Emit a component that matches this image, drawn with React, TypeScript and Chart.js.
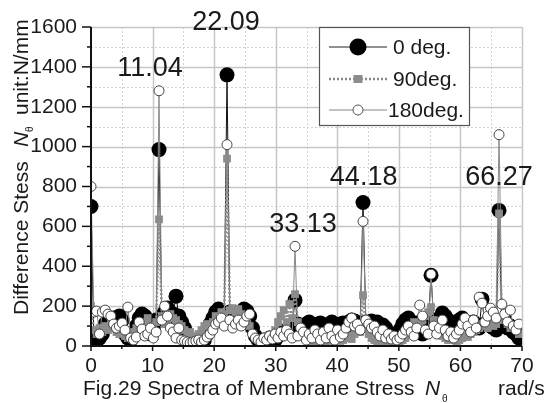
import { useEffect, useRef } from "react";
import { Chart, registerables } from "chart.js";

Chart.register(...registerables);

// Spectral resolution of the FFT (rad/s per bin)
const DF = 0.4602;

// Amplitude spectra of the membrane stress difference, one value per bin (N/mm)
const deg0 = [
  700, 45, 25, 40, 60, 110, 130, 120, 140, 100,
  150, 130, 60, 40, 30, 50, 100, 140, 160, 150,
  120, 60, 90, 130, 985, 150, 170, 190, 140, 160,
  250, 150, 120, 90, 50, 30, 20, 25, 30, 20,
  30, 60, 110, 140, 170, 185, 160, 150, 1360, 170,
  140, 130, 160, 170, 185, 175, 150, 90, 50, 30,
  25, 20, 30, 40, 20, 30, 50, 60, 70, 80,
  90, 100, 230, 110, 100, 95, 110, 120, 105, 100,
  110, 115, 100, 95, 110, 120, 105, 100, 110, 115,
  100, 120, 130, 125, 110, 115, 720, 120, 110, 125,
  110, 120, 100, 105, 90, 60, 40, 30, 50, 80,
  110, 130, 140, 120, 100, 115, 90, 60, 80, 110,
  355, 120, 90, 140, 165, 150, 130, 110, 90, 120,
  130, 140, 125, 110, 100, 120, 105, 90, 235, 110,
  120, 100, 90, 80, 680, 110, 130, 90, 100, 70,
  60, 40,
];

const deg90 = [
  200, 80, 60, 90, 70, 100, 80, 110, 90, 70,
  60, 80, 50, 40, 70, 60, 90, 80, 100, 120,
  140, 100, 80, 120, 635, 150, 110, 130, 160, 140,
  130, 110, 100, 80, 60, 70, 50, 40, 60, 80,
  100, 110, 90, 120, 150, 140, 170, 160, 940, 180,
  190, 170, 185, 160, 140, 120, 100, 60, 40, 30,
  30, 40, 50, 35, 45, 80, 120, 150, 180, 120,
  210, 140, 260, 120, 90, 60, 40, 30, 25, 20,
  20, 25, 30, 20, 25, 30, 40, 30, 25, 30,
  40, 50, 35, 60, 80, 70, 255, 90, 60, 40,
  30, 20, 25, 30, 20, 15, 20, 30, 25, 20,
  30, 40, 60, 90, 120, 110, 100, 130, 150, 170,
  195, 130, 100, 70, 50, 40, 30, 40, 30, 25,
  30, 40, 50, 45, 60, 70, 80, 90, 110, 100,
  90, 120, 100, 110, 665, 130, 140, 110, 90, 100,
  80, 60,
];

const deg180 = [
  800, 170, 175, 60, 170, 180, 160, 150, 110, 90,
  100, 115, 80, 195, 40, 30, 45, 120, 85, 50,
  60, 90, 40, 70, 1280, 130, 200, 150, 90, 70,
  40, 90, 30, 25, 20, 15, 20, 25, 30, 20,
  30, 45, 60, 80, 110, 120, 140, 100, 1010, 130,
  90, 110, 130, 100, 120, 150, 160, 60, 40, 30,
  20, 40, 30, 50, 35, 60, 40, 70, 50, 80,
  60, 40, 500, 50, 90, 70, 30, 60, 40, 80,
  60, 30, 70, 40, 90, 50, 30, 80, 45, 60,
  90, 120, 140, 100, 110, 80, 625, 130, 110, 90,
  100, 70, 50, 80, 40, 60, 35, 50, 30, 40,
  60, 80, 100, 70, 50, 90, 205, 150, 80, 60,
  360, 100, 60, 90, 130, 80, 50, 70, 40, 60,
  80, 110, 140, 100, 70, 130, 90, 245, 215, 120,
  150, 190, 170, 140, 1060, 210, 160, 120, 180, 100,
  80, 110,
];

const seriesNames = ["0 deg.", "90deg.", "180deg."];

// Harmonic peaks (rad/s) and where their labels sit
const peakFreqs = [11.04, 22.09, 33.13, 44.18, 66.27];
const peakLabelDx = [-1.45, -0.15, 1.3, 0.1, 0];
const peakLabelBase = [1354, 1585, 572, 807, 807];

const FONT = '"Liberation Sans", Arial, Helvetica, sans-serif';
const INK = "#1a1a1a";

const toPoints = (vals: number[]) => vals.map((v, i) => ({ x: i * DF, y: v }));

function drawMarker(ctx: CanvasRenderingContext2D, kind: number, cx: number, cy: number) {
  ctx.save();
  ctx.setLineDash([]);
  if (kind === 0) {
    ctx.fillStyle = "#000";
    ctx.beginPath();
    ctx.arc(cx, cy, 8.5, 0, Math.PI * 2);
    ctx.fill();
  } else if (kind === 1) {
    ctx.fillStyle = "#8c8c8c";
    ctx.fillRect(cx - 4.5, cy - 4, 9, 8);
  } else {
    ctx.fillStyle = "#fff";
    ctx.strokeStyle = "#555";
    ctx.lineWidth = 1;
    ctx.beginPath();
    ctx.arc(cx, cy, 5, 0, Math.PI * 2);
    ctx.fill();
    ctx.stroke();
  }
  ctx.restore();
}

const framePlugin = {
  id: "frame",
  beforeDatasetsDraw(chart: any) {
    const { ctx, chartArea: a, scales } = chart;
    const xs = scales.x;
    const ys = scales.y;
    ctx.save();
    const hLine = (v: number) => {
      const py = Math.round(ys.getPixelForValue(v)) + 0.5;
      ctx.beginPath();
      ctx.moveTo(a.left, py);
      ctx.lineTo(a.right, py);
      ctx.stroke();
    };
    const vLine = (v: number) => {
      const px = Math.round(xs.getPixelForValue(v)) + 0.5;
      ctx.beginPath();
      ctx.moveTo(px, a.top);
      ctx.lineTo(px, a.bottom);
      ctx.stroke();
    };
    // minor grid
    ctx.strokeStyle = "#d2d2d2";
    ctx.lineWidth = 1;
    ctx.setLineDash([2, 2]);
    for (let v = 100; v < 1600; v += 200) hLine(v);
    for (let v = 5; v < 70; v += 10) vLine(v);
    // major grid
    ctx.setLineDash([]);
    ctx.strokeStyle = "#c6c6c6";
    ctx.lineWidth = 1.5;
    ys.ticks.forEach((t: any) => t.value > 0 && hLine(t.value));
    xs.ticks.forEach((t: any) => t.value > 0 && vLine(t.value));
    ctx.restore();
  },
  afterDraw(chart: any) {
    const { ctx, chartArea: a, scales } = chart;
    const xs = scales.x;
    const ys = scales.y;
    ctx.save();

    // axes
    ctx.strokeStyle = "#111";
    ctx.lineWidth = 2;
    ctx.beginPath();
    ctx.moveTo(a.left, a.top);
    ctx.lineTo(a.left, a.bottom);
    ctx.lineTo(a.right, a.bottom);
    ctx.stroke();

    // tick marks
    ctx.lineWidth = 1.5;
    for (let v = 0; v <= 1600; v += 100) {
      const py = ys.getPixelForValue(v);
      const len = v % 200 === 0 ? 9 : 4;
      ctx.beginPath();
      ctx.moveTo(a.left - len, py);
      ctx.lineTo(a.left, py);
      ctx.stroke();
    }
    for (let v = 0; v <= 70; v += 5) {
      const px = xs.getPixelForValue(v);
      const len = v % 10 === 0 ? 5 : 3;
      ctx.beginPath();
      ctx.moveTo(px, a.bottom);
      ctx.lineTo(px, a.bottom + len);
      ctx.stroke();
    }

    ctx.fillStyle = INK;
    ctx.textAlign = "left";
    ctx.textBaseline = "alphabetic";

    // y title
    ctx.save();
    ctx.translate(28, 315);
    ctx.rotate(-Math.PI / 2);
    ctx.font = `21px ${FONT}`;
    ctx.fillText("Difference Stess", 0, 0);
    ctx.font = `italic 21px ${FONT}`;
    ctx.fillText("N", 168, 0);
    ctx.font = `10px ${FONT}`;
    ctx.fillText("θ", 183, 5);
    ctx.font = `21px ${FONT}`;
    ctx.fillText("unit:N/mm", 200, 0);
    ctx.restore();

    // x title
    ctx.font = `21px ${FONT}`;
    ctx.fillText("Fig.29 Spectra of Membrane Stress", 83, 395);
    ctx.font = `italic 21px ${FONT}`;
    ctx.fillText("N", 425, 395);
    ctx.font = `10px ${FONT}`;
    ctx.fillText("θ", 442, 402);
    ctx.font = `21px ${FONT}`;
    ctx.fillText("rad/s", 498, 395);

    // peak labels
    ctx.font = `27px ${FONT}`;
    ctx.textAlign = "center";
    peakFreqs.forEach((f, i) => {
      ctx.fillText(
        f.toFixed(2),
        xs.getPixelForValue(f + peakLabelDx[i]),
        ys.getPixelForValue(peakLabelBase[i])
      );
    });

    // legend
    const lx = a.right - 203;
    const ly = a.top;
    ctx.fillStyle = "#fff";
    ctx.fillRect(lx, ly, 150, 98);
    ctx.strokeStyle = "#555";
    ctx.lineWidth = 1.2;
    ctx.strokeRect(lx + 0.5, ly + 0.5, 150, 98);
    const rows = [20, 52, 83];
    const textX = [74, 74, 69];
    rows.forEach((ry, k) => {
      const cy = ly + ry;
      ctx.save();
      if (k === 0) {
        ctx.strokeStyle = "#222";
        ctx.lineWidth = 1;
        ctx.setLineDash([]);
      } else if (k === 1) {
        ctx.strokeStyle = "#888";
        ctx.lineWidth = 2.5;
        ctx.setLineDash([2, 2]);
      } else {
        ctx.strokeStyle = "#888";
        ctx.lineWidth = 1;
        ctx.setLineDash([]);
      }
      ctx.beginPath();
      ctx.moveTo(lx + 10, cy);
      ctx.lineTo(lx + 68, cy);
      ctx.stroke();
      ctx.restore();
      drawMarker(ctx, k, lx + 39, cy);
      ctx.fillStyle = INK;
      ctx.textAlign = "left";
      ctx.textBaseline = "middle";
      ctx.font = `21px ${FONT}`;
      ctx.fillText(seriesNames[k], lx + textX[k], cy + 1);
    });

    ctx.restore();
  },
};

export default function App() {
  const canvasRef = useRef<HTMLCanvasElement | null>(null);

  useEffect(() => {
    const canvas = canvasRef.current;
    if (!canvas) return;
    const chart = new Chart(canvas, {
      type: "line",
      data: {
        datasets: [
          {
            label: seriesNames[0],
            data: toPoints(deg0),
            borderColor: "#111",
            borderWidth: 1,
            pointRadius: 7.5,
            pointBackgroundColor: "#000",
            pointBorderColor: "#000",
            pointBorderWidth: 0,
            order: 3,
          },
          {
            label: seriesNames[1],
            data: toPoints(deg90),
            borderColor: "#8a8a8a",
            borderWidth: 2.5,
            borderDash: [2, 2],
            pointStyle: "rect",
            pointRadius: 5.5,
            pointBackgroundColor: "#8c8c8c",
            pointBorderColor: "#8c8c8c",
            pointBorderWidth: 0,
            order: 2,
          },
          {
            label: seriesNames[2],
            data: toPoints(deg180),
            borderColor: "#8a8a8a",
            borderWidth: 1,
            pointRadius: 5,
            pointBackgroundColor: "#fff",
            pointBorderColor: "#444",
            pointBorderWidth: 1,
            order: 1,
          },
        ],
      },
      options: {
        responsive: false,
        animation: false,
        devicePixelRatio: 1,
        layout: { padding: { top: 27, right: 22, left: 0, bottom: 0 } },
        plugins: { legend: { display: false }, tooltip: { enabled: false } },
        elements: { line: { tension: 0 } },
        scales: {
          x: {
            type: "linear",
            min: 0,
            max: 70,
            ticks: {
              stepSize: 10,
              font: { family: FONT, size: 21 },
              color: INK,
              padding: 4,
              maxRotation: 0,
              autoSkip: false,
              callback: (v: any) => String(v),
            },
            grid: { display: false, drawTicks: true, tickLength: 4 },
            border: { display: false },
            afterFit: (s: any) => {
              s.height = 57;
            },
          },
          y: {
            min: 0,
            max: 1600,
            ticks: {
              stepSize: 200,
              font: { family: FONT, size: 21 },
              color: INK,
              padding: 5,
              autoSkip: false,
              callback: (v: any) => String(v),
            },
            grid: { display: false, drawTicks: true, tickLength: 9 },
            border: { display: false },
            afterFit: (s: any) => {
              s.width = 91;
            },
          },
        },
      },
      plugins: [framePlugin],
    });
    return () => chart.destroy();
  }, []);

  return (
    <div
      style={{
        position: "fixed",
        left: 0,
        top: 0,
        width: 544,
        height: 403,
        background: "#fff",
      }}
    >
      <canvas ref={canvasRef} width={544} height={403} style={{ width: 544, height: 403 }} />
    </div>
  );
}
